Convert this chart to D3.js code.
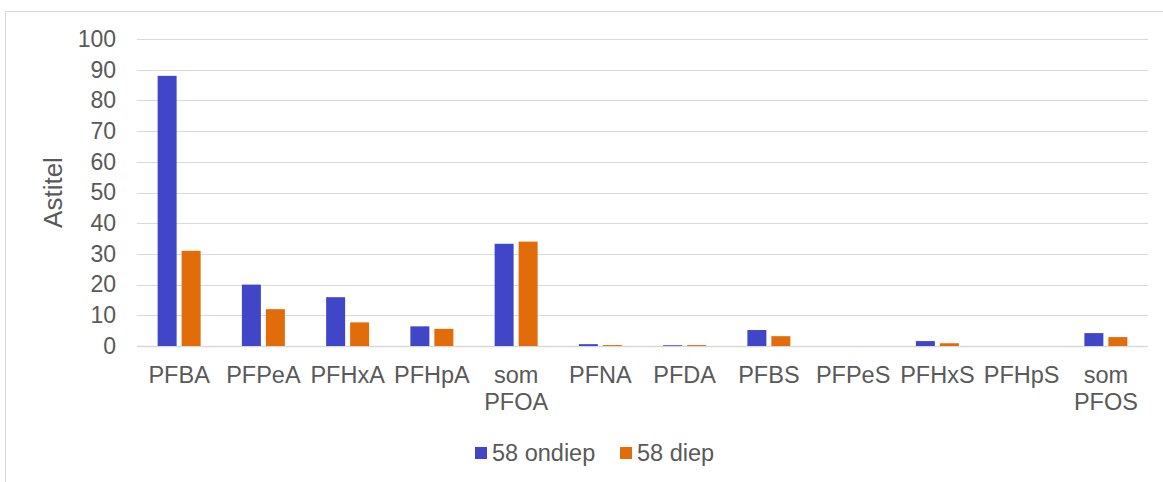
<!DOCTYPE html>
<html>
<head>
<meta charset="utf-8">
<script src="https://cdn.jsdelivr.net/npm/d3@7/dist/d3.min.js"></script>
<style>
  html, body { margin: 0; padding: 0; background: #fff; }
  svg { display: block; font-family: "Liberation Sans", Arial, sans-serif; }
</style>
</head>
<body>
<svg id="chart" width="1163" height="482"></svg>
<script>
// PFAS concentrations per compound, shallow vs deep sample
const categories = ["PFBA", "PFPeA", "PFHxA", "PFHpA", "som PFOA", "PFNA", "PFDA",
                    "PFBS", "PFPeS", "PFHxS", "PFHpS", "som PFOS"];
const seriesNames = ["58 ondiep", "58 diep"];
const ondiep = [88, 20, 15.9, 6.4, 33.3, 0.6, 0.25, 5.2, 0, 1.6, 0, 4.2];
const diep   = [31, 12, 7.7, 5.6, 34, 0.3, 0.3, 3.2, 0, 0.9, 0, 2.9];
const yTicks = [0, 10, 20, 30, 40, 50, 60, 70, 80, 90, 100];
const colors = ["#4146C9", "#E36C0A"];

const svg = d3.select("#chart");
const textColor = "#595959";

// chart area frame
svg.append("rect")
  .attr("x", 5.5).attr("y", 11.5)
  .attr("width", 1200).attr("height", 500)
  .attr("fill", "none").attr("stroke", "#d9d9d9").attr("stroke-width", 1);

const plot = { left: 137, right: 1148, top: 39, bottom: 346 };

const x = d3.scaleBand().domain(categories)
  .range([plot.left, plot.right]).paddingInner(0).paddingOuter(0);
const y = d3.scaleLinear().domain([0, 100]).range([plot.bottom, plot.top]);

// horizontal gridlines
svg.append("g").selectAll("line").data(yTicks).join("line")
  .attr("x1", plot.left).attr("x2", plot.right)
  .attr("y1", d => Math.round(y(d)) + 0.5).attr("y2", d => Math.round(y(d)) + 0.5)
  .attr("stroke", "#d9d9d9").attr("stroke-width", d => d === 0 ? 1.5 : 1);

// y tick labels
const yAxis = d3.axisLeft(y).tickValues(yTicks).tickSize(0).tickPadding(0);
const gy = svg.append("g").attr("transform", `translate(${plot.left - 21},0)`).call(yAxis);
gy.select(".domain").remove();
gy.selectAll("text")
  .attr("font-size", 23).attr("fill", textColor)
  .attr("font-family", "Liberation Sans, Arial, sans-serif");

// y axis title
svg.append("text")
  .attr("transform", `translate(62,${(plot.top + plot.bottom) / 2}) rotate(-90)`)
  .attr("text-anchor", "middle")
  .attr("font-size", 26).attr("fill", textColor)
  .text("Astitel");

// bars
const barW = 19, gap = 5;
const series = [ondiep, diep];
series.forEach((vals, si) => {
  svg.append("g").selectAll("rect").data(categories).join("rect")
    .attr("x", (c) => x(c) + x.bandwidth() / 2 - gap / 2 - barW + si * (barW + gap))
    .attr("width", barW)
    .attr("y", (c, i) => y(vals[i]))
    .attr("height", (c, i) => y(0) - y(vals[i]))
    .attr("fill", colors[si]);
});

// category labels (multi-word labels wrap onto two lines)
const gx = svg.append("g");
categories.forEach(c => {
  const words = c.split(" ");
  const t = gx.append("text")
    .attr("text-anchor", "middle")
    .attr("font-size", 23.5).attr("fill", textColor)
    .attr("x", x(c) + x.bandwidth() / 2)
    .attr("y", 383);
  words.forEach((w, i) => {
    t.append("tspan").attr("x", x(c) + x.bandwidth() / 2)
      .attr("dy", i === 0 ? 0 : 27).text(w);
  });
});

// legend
const legend = svg.append("g");
const legendX = [475, 620];
seriesNames.forEach((name, i) => {
  legend.append("rect")
    .attr("x", legendX[i]).attr("y", 447)
    .attr("width", 12).attr("height", 12)
    .attr("fill", colors[i]);
  legend.append("text")
    .attr("x", legendX[i] + 17).attr("y", 461)
    .attr("font-size", 23.5).attr("fill", textColor)
    .text(name);
});
</script>
</body>
</html>
